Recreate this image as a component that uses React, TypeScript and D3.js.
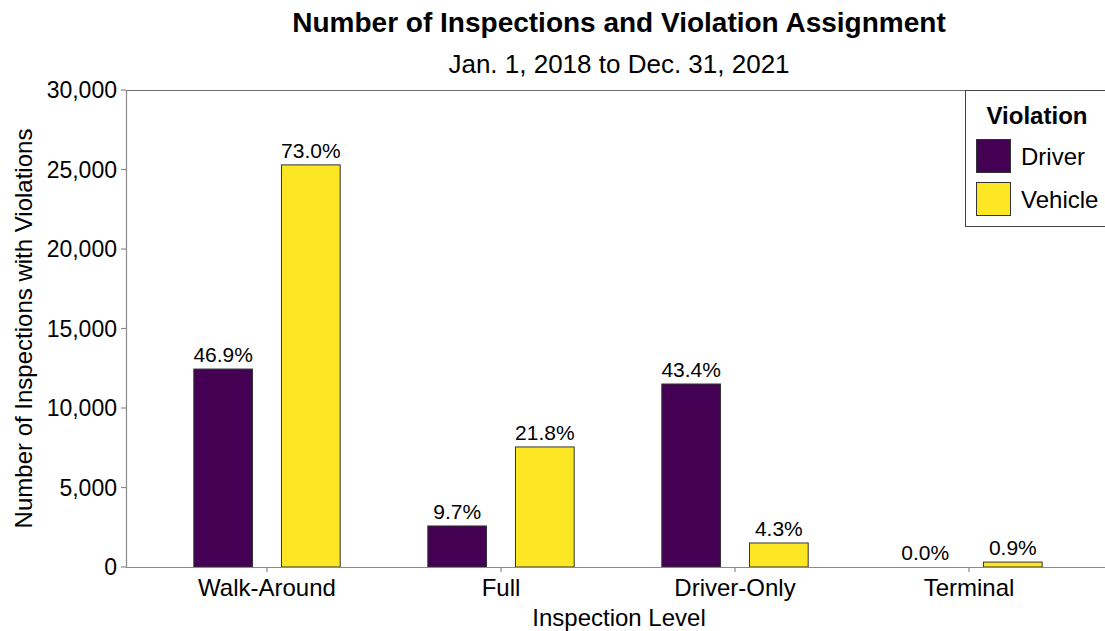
import React from "react";
import * as d3 from "d3";

const categories = ["Walk-Around", "Full", "Driver-Only", "Terminal"];
const groups = ["Driver", "Vehicle"];
const driverValues = [12450, 2580, 11510, 0];
const vehicleValues = [25290, 7550, 1510, 310];
const driverLabels = ["46.9%", "9.7%", "43.4%", "0.0%"];
const vehicleLabels = ["73.0%", "21.8%", "4.3%", "0.9%"];
const yTicks = [0, 5000, 10000, 15000, 20000, 25000, 30000];
const colors = ["#440154", "#FDE725"];

const W = 1105;
const H = 631;
const FONT = "'Liberation Sans', Arial, sans-serif";

export default function App() {
  const left = 126;
  const top = 90;
  const bottom = 567;
  const right = 1110;

  const x0 = d3.scaleBand().domain(categories).range([150, 1086]).padding(0);
  const x1 = d3
    .scaleBand()
    .domain(groups)
    .range([0, x0.bandwidth()])
    .paddingInner(0.33)
    .paddingOuter(0.5);
  const y = d3.scaleLinear().domain([0, 30000]).range([bottom, top]);
  const fmt = d3.format(",");

  const series = [
    { key: "Driver", values: driverValues, labels: driverLabels, color: colors[0] },
    { key: "Vehicle", values: vehicleValues, labels: vehicleLabels, color: colors[1] },
  ];

  return (
    <svg
      width={W}
      height={H}
      style={{ position: "absolute", left: 0, top: 0, background: "#fff" }}
      fontFamily={FONT}
    >
      <rect x={0} y={0} width={W} height={H} fill="#fff" />
      {/* Title */}
      <text x={619} y={32} textAnchor="middle" fontSize={28} fontWeight="bold" fill="#000">
        Number of Inspections and Violation Assignment
      </text>
      <text x={619} y={73} textAnchor="middle" fontSize={26} fill="#000">
        Jan. 1, 2018 to Dec. 31, 2021
      </text>

      {/* Axes lines */}
      <line x1={left} x2={right} y1={top + 0.5} y2={top + 0.5} stroke="#6e6e6e" strokeWidth={1} />
      <line x1={left + 0.5} x2={left + 0.5} y1={top} y2={bottom} stroke="#8a8a8a" strokeWidth={1.2} />

      {/* Y ticks */}
      {yTicks.map((t) => (
        <g key={t} transform={`translate(0,${y(t)})`}>
          <line x1={left - 5} x2={left} stroke="#8a8a8a" strokeWidth={1.2} />
          <text x={left - 9} dy="0.36em" textAnchor="end" fontSize={23} fill="#000">
            {fmt(t)}
          </text>
        </g>
      ))}

      {/* Bars */}
      {series.map((s) =>
        categories.map((c, i) => {
          const bx = (x0(c) as number) + (x1(s.key) as number);
          const by = y(s.values[i]);
          const bh = bottom - by;
          return (
            <g key={s.key + c}>
              <rect
                x={bx}
                y={by}
                width={x1.bandwidth()}
                height={Math.max(bh, 0)}
                fill={s.color}
                stroke="#333"
                strokeWidth={1}
              />
              <text
                x={bx + x1.bandwidth() / 2}
                y={by - 7}
                textAnchor="middle"
                fontSize={21}
                fill="#000"
              >
                {s.labels[i]}
              </text>
            </g>
          );
        })
      )}

      {/* X axis */}
      <line x1={left} x2={right} y1={bottom + 0.5} y2={bottom + 0.5} stroke="#8a8a8a" strokeWidth={1.2} />
      {categories.map((c) => {
        const cx = (x0(c) as number) + x0.bandwidth() / 2;
        return (
          <g key={c}>
            <line x1={cx} x2={cx} y1={bottom} y2={bottom + 5} stroke="#8a8a8a" strokeWidth={1.2} />
            <text x={cx} y={596} textAnchor="middle" fontSize={24} fill="#000">
              {c}
            </text>
          </g>
        );
      })}
      <text x={619} y={626} textAnchor="middle" fontSize={24} fill="#000">
        Inspection Level
      </text>
      <text
        transform={`translate(32,${(top + bottom) / 2}) rotate(-90)`}
        textAnchor="middle"
        fontSize={24}
        fill="#000"
      >
        Number of Inspections with Violations
      </text>

      {/* Legend */}
      <rect x={965.5} y={90.5} width={150} height={136} fill="#fff" stroke="#444" strokeWidth={1} />
      <text x={1037} y={124} textAnchor="middle" fontSize={24} fontWeight="bold" fill="#000">
        Violation
      </text>
      {series.map((s, i) => (
        <g key={s.key} transform={`translate(976,${139 + i * 43})`}>
          <rect x={0.5} y={0.5} width={34} height={33} fill={s.color} stroke="#333" strokeWidth={1} />
          <text x={45} y={26} fontSize={24} fill="#000">
            {s.key}
          </text>
        </g>
      ))}
    </svg>
  );
}
